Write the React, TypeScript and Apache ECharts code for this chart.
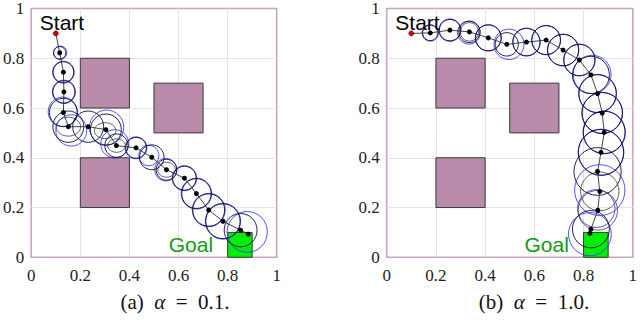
import React, { useEffect, useRef } from "react";
import * as echarts from "echarts";

// ---- data ----
const tickValues = [0, 0.2, 0.4, 0.6, 0.8, 1];
const obstacles = [
  [0.2, 0.6, 0.4, 0.8],
  [0.5, 0.5, 0.7, 0.7],
  [0.2, 0.2, 0.4, 0.4],
];
const goalBox = [[0.8, 0, 0.9, 0.1]];
const startPoint = [0.1, 0.9];
const labelTexts = ["Start", "Goal"];
const labelPos = [
  [0.035, 0.945],
  [0.56, 0.05],
];
const captionLabels = ["(a)", "(b)"];
const captionValues = ["0.1.", "1.0."];

// alpha = 0.1
const leftPathX = [0.116, 0.131, 0.133, 0.131, 0.151, 0.232, 0.304, 0.347, 0.427, 0.491, 0.551, 0.624, 0.673, 0.723, 0.781, 0.853, 0.884];
const leftPathY = [0.822, 0.744, 0.665, 0.582, 0.525, 0.525, 0.513, 0.449, 0.44, 0.402, 0.352, 0.318, 0.256, 0.19, 0.145, 0.109, 0.093];
const leftBlackR = [0.025, 0.042, 0.045, 0.057, 0.063, 0.063, 0.063, 0.047, 0.042, 0.05, 0.042, 0.048, 0.06, 0.065, 0.07, 0.067, null];
const leftBlue = [
  [0.118, 0.822, 0.027],
  [0.131, 0.744, 0.044],
  [0.133, 0.665, 0.047],
  [0.128, 0.585, 0.059],
  [0.163, 0.51, 0.063],
  [0.307, 0.522, 0.07],
  [0.34, 0.456, 0.057],
  [0.427, 0.44, 0.044],
  [0.479, 0.409, 0.041],
  [0.548, 0.352, 0.045],
  [0.624, 0.318, 0.05],
  [0.673, 0.256, 0.062],
  [0.723, 0.19, 0.067],
  [0.781, 0.145, 0.072],
  [0.88, 0.102, 0.082],
];
const leftInner = [
  [0.151, 0.525, 0.05, 0.038],
  [0.301, 0.509, 0.044, 0.032],
  [0.347, 0.449, 0.036, 0.027],
  [0.551, 0.352, 0.036, 0.03],
];

// alpha = 1.0
const rightPathX = [0.177, 0.257, 0.336, 0.413, 0.488, 0.568, 0.648, 0.717, 0.783, 0.83, 0.857, 0.876, 0.884, 0.871, 0.857, 0.866, 0.858, 0.83, 0.826];
const rightPathY = [0.902, 0.913, 0.906, 0.882, 0.856, 0.865, 0.873, 0.833, 0.793, 0.733, 0.658, 0.58, 0.502, 0.422, 0.345, 0.265, 0.189, 0.113, 0.096];
const rightBlackR = [0.031, 0.043, 0.043, 0.052, 0.047, 0.055, 0.058, 0.063, 0.063, 0.075, 0.076, 0.082, 0.085, 0.092, 0.096, null, null, 0.075, null];
const rightBlue = [
  [0.177, 0.902, 0.033],
  [0.257, 0.913, 0.045],
  [0.334, 0.903, 0.046],
  [0.413, 0.882, 0.053],
  [0.497, 0.856, 0.061],
  [0.568, 0.865, 0.056],
  [0.648, 0.873, 0.059],
  [0.717, 0.833, 0.064],
  [0.783, 0.793, 0.064],
  [0.835, 0.735, 0.077],
  [0.857, 0.658, 0.077],
  [0.876, 0.58, 0.083],
  [0.884, 0.502, 0.086],
  [0.871, 0.422, 0.093],
  [0.866, 0.27, 0.102],
  [0.852, 0.196, 0.076],
  [0.826, 0.093, 0.087],
];
const rightInner = [
  [0.336, 0.906, 0.037, 0.037],
  [0.866, 0.265, 0.078, 0.078],
  [0.858, 0.189, 0.08, 0.08],
];

// ---- helpers ----
const FRAME = "#c9a3c3";
const SERIF = "Liberation Serif";
const SANS = "Liberation Sans";

const rectSeries = (grid: number, data: number[][], fill: string, z: number) => ({
  type: "custom",
  xAxisIndex: grid,
  yAxisIndex: grid,
  z,
  silent: true,
  data,
  renderItem: (_p: any, api: any) => {
    const p0 = api.coord([api.value(0), api.value(1)]);
    const p1 = api.coord([api.value(2), api.value(3)]);
    return {
      type: "rect",
      shape: { x: p0[0], y: p1[1], width: p1[0] - p0[0], height: p0[1] - p1[1] },
      style: { fill, stroke: "#3a3a3a", lineWidth: 1 },
    };
  },
});

const circleSeries = (grid: number, data: number[][], stroke: string, lw: number, z: number) => ({
  type: "custom",
  xAxisIndex: grid,
  yAxisIndex: grid,
  z,
  silent: true,
  clip: false,
  data,
  renderItem: (_p: any, api: any) => {
    const c = api.coord([api.value(0), api.value(1)]);
    const s = api.size([api.value(2), api.value(3)]);
    return {
      type: "ellipse",
      shape: { cx: c[0], cy: c[1], rx: s[0], ry: s[1] },
      style: { fill: "none", stroke, lineWidth: lw },
    };
  },
});

const labelSeries = (grid: number) => ({
  type: "custom",
  xAxisIndex: grid,
  yAxisIndex: grid,
  z: 10,
  silent: true,
  clip: false,
  data: labelPos,
  renderItem: (p: any, api: any) => {
    const c = api.coord([api.value(0), api.value(1)]);
    const isGoal = p.dataIndex === 1;
    return {
      type: "text",
      x: c[0],
      y: c[1],
      style: {
        text: labelTexts[p.dataIndex],
        fill: isGoal ? "#139a13" : "#000000",
        fontSize: 21,
        fontFamily: SANS,
        align: "left",
        verticalAlign: "middle",
      },
    };
  },
});

const buildSeries = (
  grid: number,
  px: number[],
  py: number[],
  blackR: (number | null)[],
  blue: number[][],
  inner: number[][]
) => {
  const black: number[][] = [];
  px.forEach((x, i) => {
    const r = blackR[i];
    if (r != null) black.push([x, py[i], r, r]);
  });
  const blueE = blue.map((b) => [b[0], b[1], b[2], b[2]]);
  const pathData: any[] = [
    { value: startPoint, symbolSize: 5, itemStyle: { color: "#d40000", borderColor: "#5a0000", borderWidth: 0.6 } },
    ...px.map((x, i) => [x, py[i]]),
  ];
  return [
    rectSeries(grid, obstacles, "#b98aa9", 2),
    rectSeries(grid, goalBox, "#00ee00", 2),
    circleSeries(grid, blueE, "#3b3bff", 0.9, 3),
    circleSeries(grid, inner, "#3c3c3c", 0.8, 4),
    circleSeries(grid, black, "#0a0a38", 0.9, 5),
    {
      type: "line",
      xAxisIndex: grid,
      yAxisIndex: grid,
      z: 6,
      silent: true,
      data: pathData,
      symbol: "circle",
      symbolSize: 5,
      showSymbol: true,
      itemStyle: { color: "#000000" },
      lineStyle: { color: "#303030", width: 0.9 },
    },
    labelSeries(grid),
  ];
};

const axisCommon = (grid: number, isX: boolean) => ({
  type: "value",
  gridIndex: grid,
  min: tickValues[0],
  max: tickValues[tickValues.length - 1],
  interval: 0.2,
  axisLine: { show: false },
  axisTick: { show: false },
  splitLine: { show: true, showMinLine: false, showMaxLine: false, lineStyle: { color: "#e4e4e4", width: 1 } },
  axisLabel: {
    fontFamily: SERIF,
    fontSize: 17,
    color: "#222",
    margin: isX ? 10 : 7,
  },
});

const captionText = (i: number) => ({
  type: "text",
  x: i === 0 ? 175 : 534,
  y: 302,
  style: {
    text: captionLabels[i] + "\u2002{i|α}\u2002=\u2002" + captionValues[i],
    fontFamily: SERIF,
    fontSize: 21,
    fill: "#111",
    align: "center",
    verticalAlign: "middle",
    rich: { i: { fontStyle: "italic", fontFamily: SERIF, fontSize: 21, fill: "#111" } },
  },
});

export default function App() {
  const ref = useRef<HTMLDivElement>(null);
  useEffect(() => {
    if (!ref.current) return;
    const chart = echarts.init(ref.current, null, { renderer: "svg" });
    const gridBase = { top: 7.3, width: 250, height: 250, show: true, borderColor: FRAME, borderWidth: 1.6, backgroundColor: "transparent" };
    chart.setOption({
      animation: false,
      backgroundColor: "#ffffff",
      textStyle: { fontFamily: SERIF },
      grid: [
        { ...gridBase, left: 26.7 },
        { ...gridBase, left: 386.7 },
      ],
      xAxis: [axisCommon(0, true), axisCommon(1, true)],
      yAxis: [axisCommon(0, false), axisCommon(1, false)],
      series: [
        ...buildSeries(0, leftPathX, leftPathY, leftBlackR, leftBlue, leftInner),
        ...buildSeries(1, rightPathX, rightPathY, rightBlackR, rightBlue, rightInner),
      ],
      graphic: [captionText(0), captionText(1)],
    });
    return () => chart.dispose();
  }, []);
  return <div ref={ref} style={{ position: "absolute", left: 0, top: 0, width: 640, height: 321 }} />;
}
